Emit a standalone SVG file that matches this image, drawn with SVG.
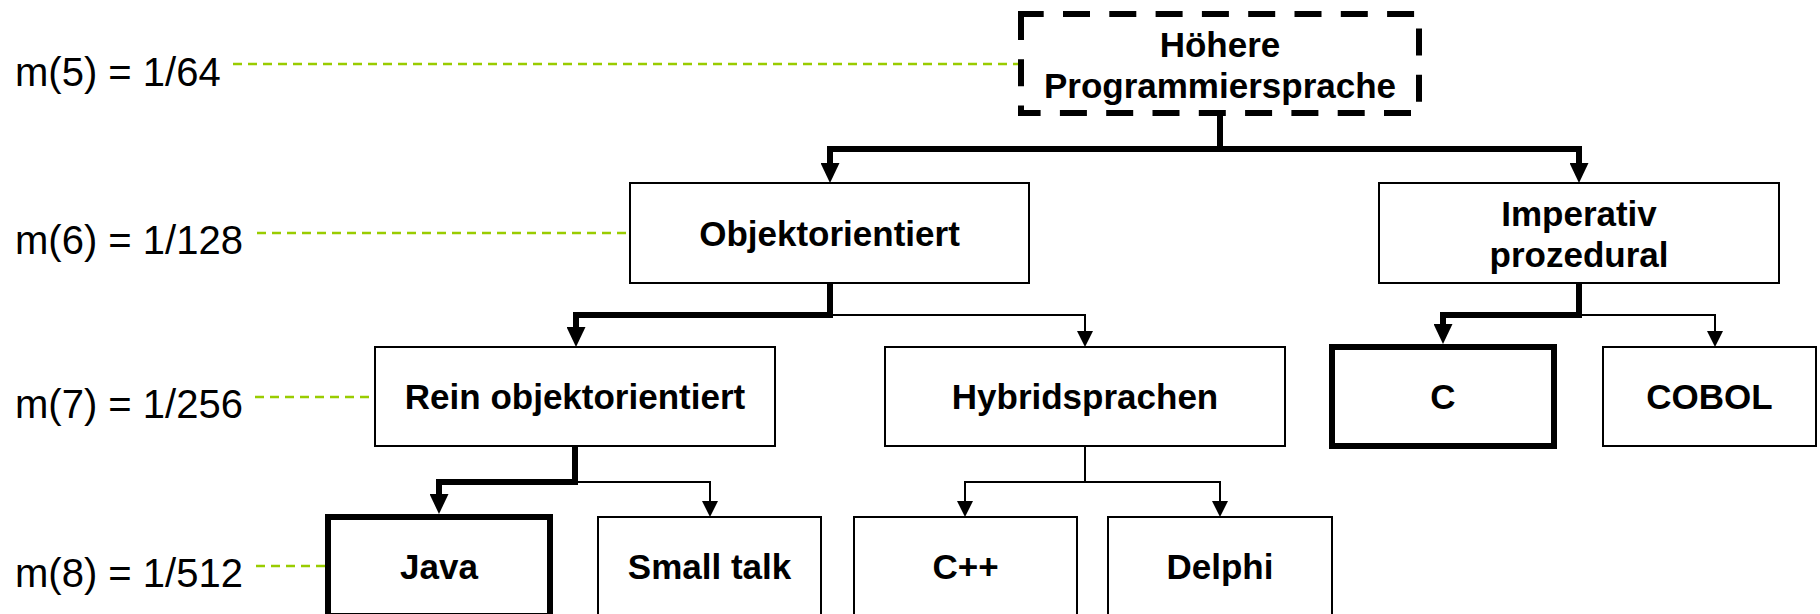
<svg xmlns="http://www.w3.org/2000/svg" width="1820" height="614" viewBox="0 0 1820 614">
  <style>
    .box { fill: #ffffff; stroke: #000000; stroke-width: 2; }
    .box-bold { fill: #ffffff; stroke: #000000; stroke-width: 6; }
    .box-dash { fill: #ffffff; stroke: #000000; stroke-width: 6; stroke-dasharray: 27 19.3; stroke-dashoffset: 4.3; }
    .node-text { font-family: "Liberation Sans", Arial, sans-serif; font-size: 35px; font-weight: bold; fill: #000000; text-anchor: middle; }
    .level-text { font-family: "Liberation Sans", Arial, sans-serif; font-size: 40px; fill: #000000; }
    .guide { stroke: #99cc00; stroke-width: 2.5; stroke-dasharray: 9 6; fill: none; }
    .edge { fill: none; stroke: #000000; stroke-width: 2; stroke-linejoin: miter; }
    .edge-bold { fill: none; stroke: #000000; stroke-width: 6; stroke-linejoin: miter; }
  </style>
  <defs>
    <marker id="arrow-bold" markerUnits="userSpaceOnUse" viewBox="0 0 20 19" refX="0" refY="9.5" markerWidth="20" markerHeight="19" orient="auto">
      <path d="M0,0 L20,9.5 L0,19 Z" fill="#000000"/>
    </marker>
    <marker id="arrow" markerUnits="userSpaceOnUse" viewBox="0 0 16 16" refX="0" refY="8" markerWidth="16" markerHeight="16" orient="auto">
      <path d="M0,0 L16,8 L0,16 Z" fill="#000000"/>
    </marker>
  </defs>

  <!-- level labels with dashed guide lines -->
  <g id="levels">
    <text class="level-text" x="15" y="86">m(5) = 1/64</text>
    <text class="level-text" x="15" y="254">m(6) = 1/128</text>
    <text class="level-text" x="15" y="418">m(7) = 1/256</text>
    <text class="level-text" x="15" y="587">m(8) = 1/512</text>
    <line class="guide" x1="233" y1="64" x2="1019" y2="64"/>
    <line class="guide" x1="257" y1="233" x2="629" y2="233"/>
    <line class="guide" x1="255" y1="397" x2="374" y2="397"/>
    <line class="guide" x1="256" y1="566" x2="325" y2="566"/>
  </g>

  <!-- tree connectors -->
  <g id="connectors">
    <path class="edge-bold" d="M1220,113 V149 H830 V163" marker-end="url(#arrow-bold)"/>
    <path class="edge-bold" d="M1220,149 H1579 V163" marker-end="url(#arrow-bold)"/>

    <path class="edge-bold" d="M830,283 V315 H576 V327" marker-end="url(#arrow-bold)"/>
    <path class="edge" d="M830,315 H1085 V331" marker-end="url(#arrow)"/>

    <path class="edge-bold" d="M1579,283 V315 H1443 V324" marker-end="url(#arrow-bold)"/>
    <path class="edge" d="M1579,315 H1715 V331" marker-end="url(#arrow)"/>

    <path class="edge-bold" d="M575,446 V482 H439 V494" marker-end="url(#arrow-bold)"/>
    <path class="edge" d="M575,482 H710 V501" marker-end="url(#arrow)"/>

    <path class="edge" d="M1085,446 V482 H965 V501" marker-end="url(#arrow)"/>
    <path class="edge" d="M1085,482 H1220 V501" marker-end="url(#arrow)"/>
  </g>

  <g id="hoehere-programmiersprache">
    <rect class="box-dash" x="1021" y="14" width="398" height="99"/>
    <text class="node-text" x="1220" y="57">Höhere</text>
    <text class="node-text" x="1220" y="98">Programmiersprache</text>
  </g>

  <g id="objektorientiert">
    <rect class="box" x="630" y="183" width="399" height="100"/>
    <text class="node-text" x="829.5" y="246">Objektorientiert</text>
  </g>

  <g id="imperativ-prozedural">
    <rect class="box" x="1379" y="183" width="400" height="100"/>
    <text class="node-text" x="1579" y="226">Imperativ</text>
    <text class="node-text" x="1579" y="267">prozedural</text>
  </g>

  <g id="rein-objektorientiert">
    <rect class="box" x="375" y="347" width="400" height="99"/>
    <text class="node-text" x="575" y="409">Rein objektorientiert</text>
  </g>

  <g id="hybridsprachen">
    <rect class="box" x="885" y="347" width="400" height="99"/>
    <text class="node-text" x="1085" y="409">Hybridsprachen</text>
  </g>

  <g id="c">
    <rect class="box-bold" x="1332" y="347" width="222" height="99"/>
    <text class="node-text" x="1443" y="409">C</text>
  </g>

  <g id="cobol">
    <rect class="box" x="1603" y="347" width="213" height="99"/>
    <text class="node-text" x="1709.5" y="409">COBOL</text>
  </g>

  <g id="java">
    <rect class="box-bold" x="328" y="517" width="222" height="99"/>
    <text class="node-text" x="439" y="579">Java</text>
  </g>

  <g id="small-talk">
    <rect class="box" x="598" y="517" width="223" height="99"/>
    <text class="node-text" x="709.5" y="579">Small talk</text>
  </g>

  <g id="cpp">
    <rect class="box" x="854" y="517" width="223" height="99"/>
    <text class="node-text" x="965.5" y="579">C++</text>
  </g>

  <g id="delphi">
    <rect class="box" x="1108" y="517" width="224" height="99"/>
    <text class="node-text" x="1220" y="579">Delphi</text>
  </g>
</svg>
